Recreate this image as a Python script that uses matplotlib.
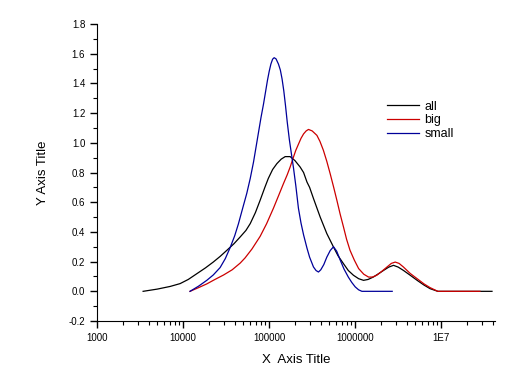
import numpy as np
import matplotlib
matplotlib.use('Agg')
from matplotlib import pyplot as plt
from matplotlib.ticker import FixedLocator, FixedFormatter, LogLocator, MultipleLocator, NullFormatter

plt.rcParams['font.family'] = ['Liberation Sans', 'DejaVu Sans']

# x positions are log10 exponents
all_logx = [3.535, 3.7, 3.85, 3.965, 4.06, 4.16, 4.26, 4.35, 4.43, 4.508, 4.59, 4.663, 4.73,
            4.78, 4.84, 4.895, 4.95, 4.99, 5.04, 5.09, 5.14, 5.186, 5.244, 5.30, 5.36, 5.40,
            5.44, 5.47, 5.515, 5.593, 5.67, 5.748, 5.80, 5.864, 5.92, 5.98, 6.04, 6.097,
            6.15, 6.21, 6.27, 6.33, 6.39, 6.445, 6.50, 6.56, 6.64, 6.72, 6.80, 6.87, 6.96,
            7.3, 7.59]
all_y = [0.0, 0.015, 0.033, 0.052, 0.08, 0.119, 0.158, 0.197, 0.235, 0.276, 0.32, 0.366, 0.41,
         0.456, 0.53, 0.613, 0.70, 0.76, 0.82, 0.86, 0.89, 0.907, 0.907, 0.88, 0.837, 0.80,
         0.735, 0.70, 0.625, 0.50, 0.389, 0.298, 0.24, 0.186, 0.14, 0.108, 0.085, 0.074,
         0.08, 0.096, 0.118, 0.141, 0.163, 0.175, 0.163, 0.141, 0.108, 0.074, 0.042, 0.018, 0.0,
         0.0, 0.0]

big_logx = [4.08, 4.18, 4.275, 4.37, 4.47, 4.57, 4.663, 4.72, 4.80, 4.895, 4.97, 5.05, 5.11,
            5.166, 5.21, 5.244, 5.283, 5.31, 5.34, 5.37, 5.40, 5.43, 5.457, 5.50,
            5.555, 5.59, 5.63, 5.67, 5.71, 5.75, 5.787, 5.825, 5.864, 5.90, 5.94, 5.99, 6.04,
            6.10, 6.155, 6.20, 6.25, 6.31, 6.37, 6.42, 6.465, 6.51, 6.56, 6.64, 6.72, 6.80,
            6.87, 6.96, 7.45]
big_y = [0.0, 0.025, 0.05, 0.08, 0.11, 0.145, 0.19, 0.225, 0.285, 0.37, 0.455, 0.56, 0.645,
         0.725, 0.785, 0.837, 0.905, 0.95, 0.99, 1.03, 1.06, 1.08, 1.09, 1.08,
         1.05, 1.01, 0.95, 0.875, 0.79, 0.70, 0.613, 0.52, 0.433, 0.35, 0.276, 0.21, 0.153,
         0.115, 0.096, 0.096, 0.108, 0.135, 0.164, 0.188, 0.197, 0.188, 0.164, 0.12, 0.085, 0.05,
         0.025, 0.0, 0.0]

small_logx = [4.08, 4.18, 4.275, 4.35, 4.43, 4.49, 4.547, 4.60, 4.643, 4.69, 4.74, 4.78, 4.818,
              4.85, 4.876, 4.905, 4.934, 4.96, 4.98, 5.00, 5.02, 5.04, 5.058, 5.08, 5.108, 5.13,
              5.15, 5.17, 5.19, 5.21, 5.235, 5.26, 5.283, 5.31, 5.34, 5.37, 5.40, 5.44,
              5.47, 5.515, 5.545, 5.573, 5.60, 5.635, 5.67, 5.71, 5.748, 5.785, 5.826, 5.87,
              5.92, 5.96, 6.00, 6.04, 6.078, 6.43]
small_y = [0.0, 0.035, 0.074, 0.11, 0.16, 0.22, 0.295, 0.375, 0.455, 0.555, 0.66, 0.76, 0.87,
           0.98, 1.07, 1.17, 1.26, 1.35, 1.42, 1.48, 1.53, 1.563, 1.573, 1.565, 1.53, 1.49,
           1.43, 1.35, 1.25, 1.14, 1.02, 0.92, 0.83, 0.71, 0.56, 0.46, 0.38, 0.29,
           0.23, 0.164, 0.14, 0.13, 0.145, 0.18, 0.23, 0.275, 0.30, 0.27, 0.21, 0.15,
           0.096, 0.06, 0.03, 0.01, 0.0, 0.0]

x_ticks = [1e3, 1e4, 1e5, 1e6, 1e7]
x_labels = ['1000', '10000', '100000', '1000000', '1E7']

fig = plt.figure(figsize=(5.22, 3.69), dpi=100)
ax = fig.add_axes([0.186, 0.130, 0.762, 0.805])

ax.plot(10 ** np.array(all_logx), all_y, color='black', lw=0.9, label='all')
ax.plot(10 ** np.array(big_logx), big_y, color='#cc0000', lw=0.9, label='big')
ax.plot(10 ** np.array(small_logx), small_y, color='#000099', lw=0.9, label='small')

ax.set_xscale('log')
ax.set_xlim(1000, 4.2e7)
ax.set_ylim(-0.2, 1.8)
ax.xaxis.set_major_locator(FixedLocator(x_ticks))
ax.xaxis.set_major_formatter(FixedFormatter(x_labels))
ax.xaxis.set_minor_locator(LogLocator(base=10, subs=np.arange(2, 10), numticks=20))
ax.xaxis.set_minor_formatter(NullFormatter())
ax.yaxis.set_major_locator(MultipleLocator(0.2))
ax.yaxis.set_minor_locator(MultipleLocator(0.1))
ax.yaxis.set_major_formatter(plt.FormatStrFormatter('%.1f'))

for s in ['top', 'right']:
    ax.spines[s].set_visible(False)
ax.tick_params(which='major', direction='out', length=5, width=1, labelsize=7)
ax.tick_params(which='minor', direction='out', length=3, width=0.8)

ax.set_xlabel('X  Axis Title', fontsize=9.5, labelpad=8)
ax.set_ylabel('Y Axis Title', fontsize=9.5, labelpad=14)

ax.legend(loc='upper left', bbox_to_anchor=(0.7, 0.78), frameon=False, fontsize=9,
          handlelength=2.6, handletextpad=0.4, labelspacing=0.15)

fig.savefig('out.png', dpi=100)
